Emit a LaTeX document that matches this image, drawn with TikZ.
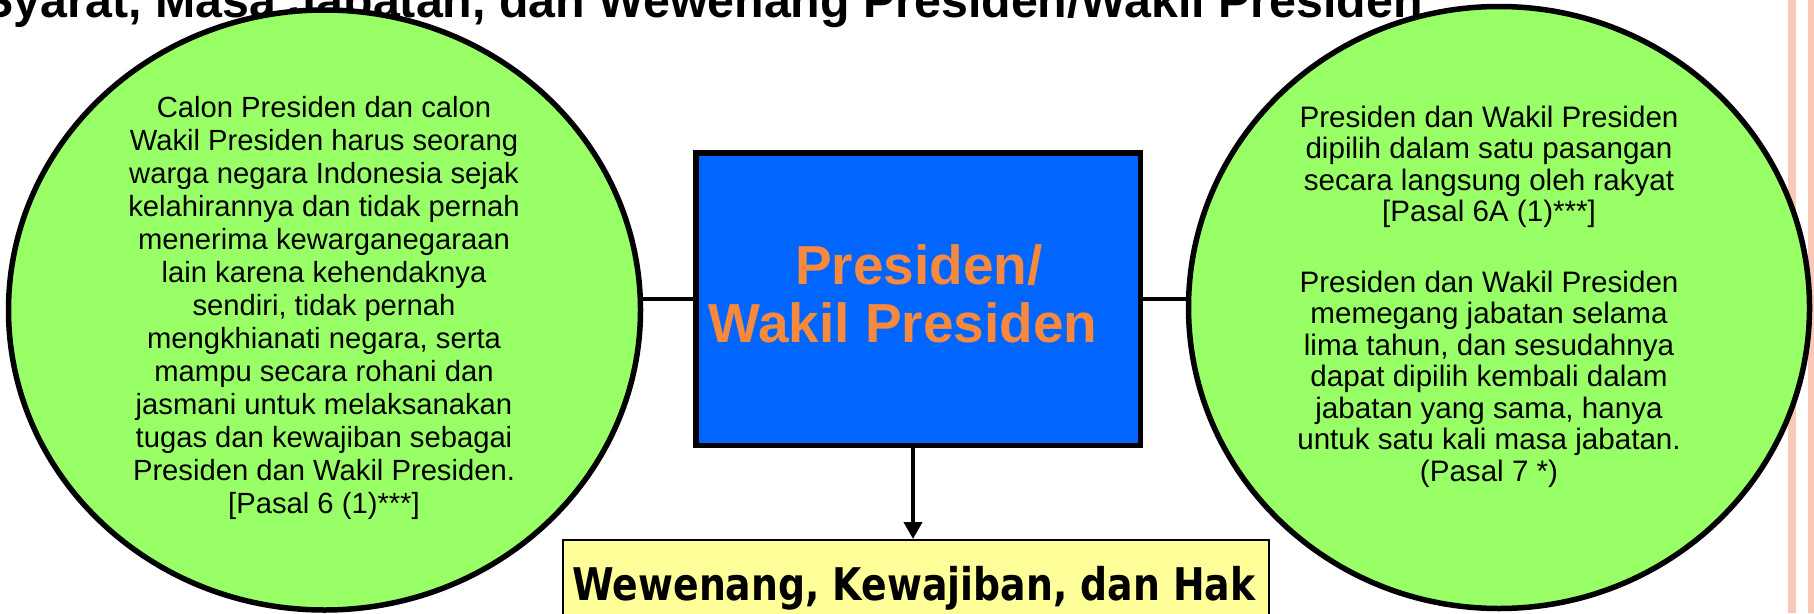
\documentclass[tikz,border=0pt]{standalone}
\usepackage{fontspec}
\setmainfont{Liberation Sans}
\newfontfamily\tahoma{DejaVu Sans}
\usetikzlibrary{shapes.geometric,arrows.meta}
\definecolor{egreen}{RGB}{153,255,102}
\definecolor{bblue}{RGB}{0,102,255}
\definecolor{borange}{RGB}{247,137,60}
\definecolor{ylw}{RGB}{255,255,153}
\definecolor{pinkstripe}{RGB}{250,200,182}
\begin{document}
\begin{tikzpicture}[x=1pt,y=-1pt,
  bubble/.style={ellipse, draw=black, line width=5.5pt, fill=egreen, inner sep=0pt},
  bubbletext/.style={align=center, inner sep=0pt, anchor=north},
  link/.style={line width=4pt, draw=black},
]
\useasboundingbox (0,0) rectangle (1814,613);
\clip (0,0) rectangle (1814,613);
\fill[pinkstripe] (1788,0) rectangle (1796,613);
\fill[pinkstripe] (1808,0) rectangle (1814,613);

\node[anchor=base west, inner sep=0pt, font=\fontsize{48.3}{50}\selectfont\bfseries] (title) at (-19,17) {Syarat, Masa Jabatan, dan Wewenang Presiden/Wakil Presiden};

\node[bubble, minimum width=632pt, minimum height=600pt] (L) at (324.5,310) {};
\node[bubble, minimum width=621pt, minimum height=602pt] (R) at (1499,307.5) {};

\node[bubbletext, font=\fontsize{29.2}{33}\selectfont] (Ltext) at (324,95.7) {Calon Presiden dan calon\\Wakil Presiden harus seorang\\warga negara Indonesia sejak\\kelahirannya dan tidak pernah\\menerima kewarganegaraan\\lain karena kehendaknya\\sendiri, tidak pernah\\mengkhianati negara, serta\\mampu secara rohani dan\\jasmani untuk melaksanakan\\tugas dan kewajiban sebagai\\Presiden dan Wakil Presiden.\\{[}Pasal 6 (1)***{]}};

\node[bubbletext, font=\fontsize{29.6}{31.5}\selectfont] (Rtext) at (1489,105.4) {Presiden dan Wakil Presiden\\dipilih dalam satu pasangan\\secara langsung oleh rakyat\\{[}Pasal 6A (1)***{]}\\[39pt]Presiden dan Wakil Presiden\\memegang jabatan selama\\lima tahun, dan sesudahnya\\dapat dipilih kembali dalam\\jabatan yang sama, hanya\\untuk satu kali masa jabatan.\\(Pasal 7 *)};

\node[draw=black, line width=5.5pt, fill=bblue, minimum width=444.5pt, minimum height=292.5pt, inner sep=0pt] (box) at (918,299) {};
\node[anchor=north, align=center, inner sep=0pt, text=borange, font=\fontsize{55}{58}\selectfont\bfseries] (btext) at (903,244) {\hspace*{32pt}Presiden/\\Wakil Presiden};

\node[draw=black, line width=2pt, fill=ylw, minimum width=706pt, minimum height=150pt, inner sep=0pt] (hak) at (916,615) {};
\node[anchor=base, inner sep=0pt] (haktext) at (914,600) {\scalebox{0.84}[1]{\tahoma\bfseries\fontsize{45}{50}\selectfont Wewenang, Kewajiban, dan Hak}};

\draw[link] (box.west) -- (L.east |- box.west);
\draw[link] (box.east) -- (R.west |- box.east);
\coordinate (ax) at (913,0);
\draw[link, -{Triangle[width=18pt,length=17pt]}] (box.south -| ax) -- (hak.north -| ax);
\end{tikzpicture}
\end{document}
